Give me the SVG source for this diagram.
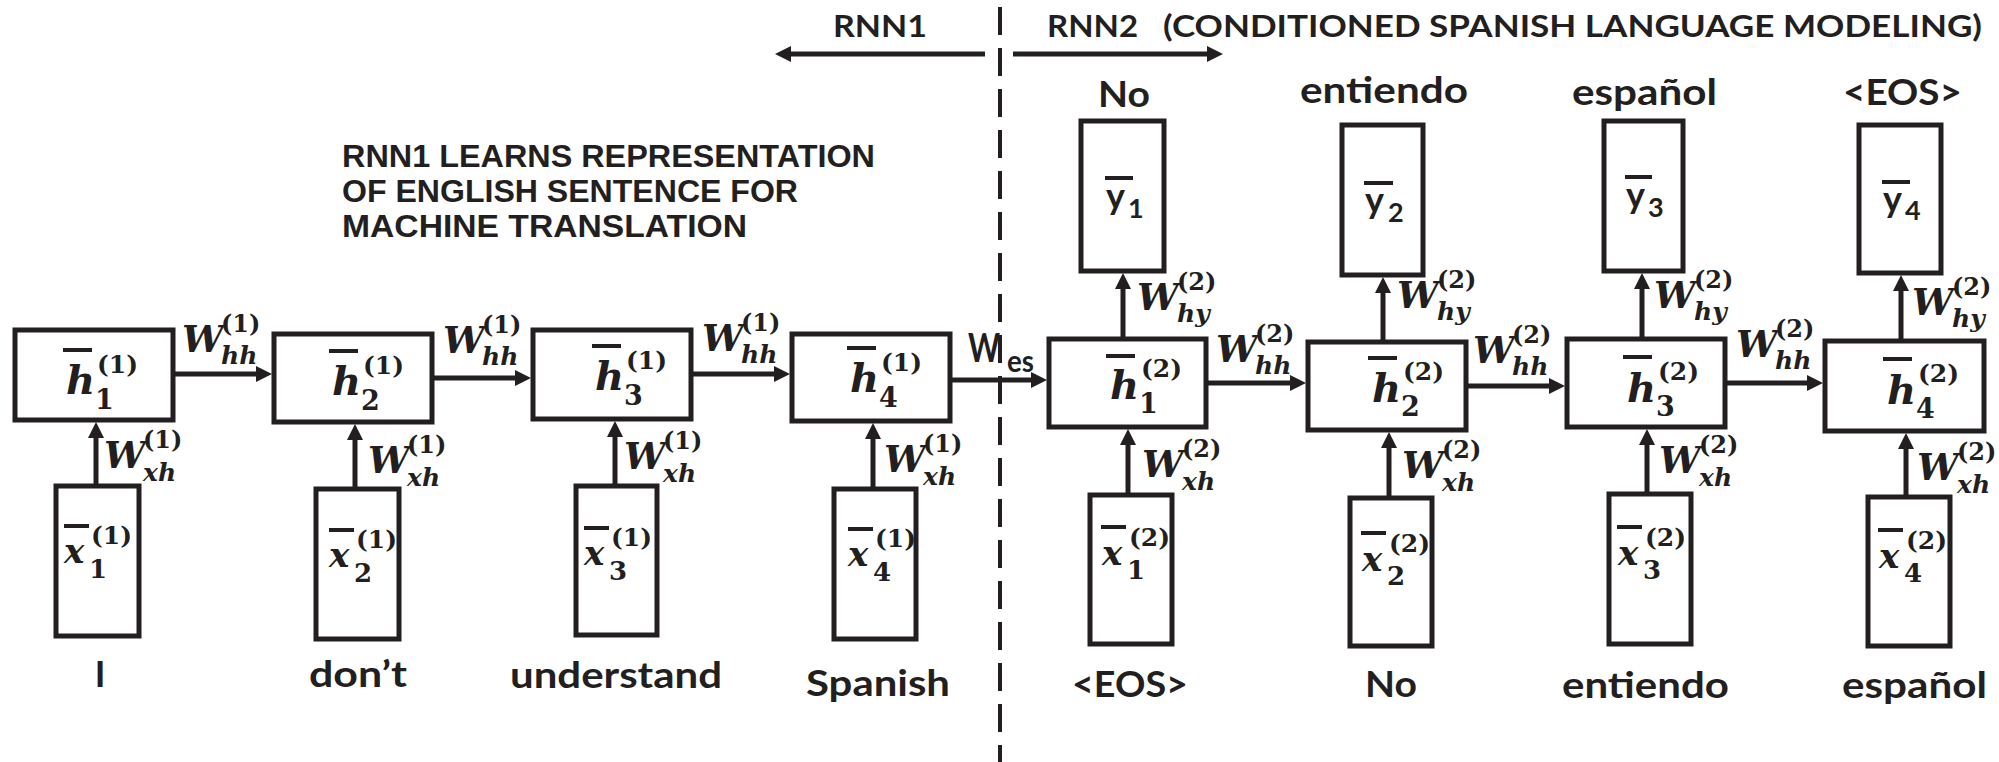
<svg xmlns="http://www.w3.org/2000/svg" width="1999" height="762" viewBox="0 0 1999 762">
<defs>
<marker id="ah" markerUnits="userSpaceOnUse" markerWidth="16" markerHeight="16" refX="6" refY="8" orient="auto"><path d="M0,0 L16,8 L0,16 z" fill="#231f20"/></marker>
<style>
.box{fill:#fff;stroke:#231f20;stroke-width:5}
.conn{stroke:#231f20;stroke-width:5;fill:none;marker-end:url(#ah)}
.ob{stroke:#231f20;stroke-width:4}
.s{font-family:Lato,'Liberation Sans',sans-serif;font-weight:bold;fill:#231f20}
.pp{font-family:'Liberation Sans',Arial,sans-serif;font-weight:bold;fill:#231f20;font-size:31px}
.m{font-family:'DejaVu Serif','Liberation Serif',serif;font-weight:bold;font-style:italic;fill:#231f20}
.r{font-style:normal}
.w{font-size:37px}.ws{font-size:24px}.wb{font-size:25px}
.h{font-size:40px}.hd{font-size:27px}.hs{font-size:25px}
.x{font-size:34px}.xd{font-size:26px}.xs{font-size:25px}
.t{font-size:31px}.lb{font-size:36px}
.y{font-size:36px}.yd{font-size:27px}
</style>
</defs>
<rect width="1999" height="762" fill="#fff"/>

<g id="divider"><line x1="1000" y1="-34" x2="1000" y2="762" stroke="#231f20" stroke-width="4" stroke-dasharray="28 13"/></g>

<g id="titles">
<text class="s t" x="833" y="37" textLength="94" lengthAdjust="spacingAndGlyphs">RNN1</text>
<text class="s t" x="1047" y="37" textLength="91" lengthAdjust="spacingAndGlyphs">RNN2</text>
<text class="s t" x="1163" y="37" textLength="819" lengthAdjust="spacingAndGlyphs">(CONDITIONED SPANISH LANGUAGE MODELING)</text>
<text class="pp" x="342" y="167" textLength="533" lengthAdjust="spacingAndGlyphs">RNN1 LEARNS REPRESENTATION</text>
<text class="pp" x="342" y="202" textLength="456" lengthAdjust="spacingAndGlyphs">OF ENGLISH SENTENCE FOR</text>
<text class="pp" x="342" y="237" textLength="405" lengthAdjust="spacingAndGlyphs">MACHINE TRANSLATION</text>
</g>

<g id="connectors">
<line class="conn" x1="985" y1="54" x2="785" y2="54"/>
<line class="conn" x1="1013" y1="54" x2="1213" y2="54"/>
<line class="conn" x1="172" y1="374" x2="262" y2="374"/>
<line class="conn" x1="432" y1="378" x2="521" y2="378"/>
<line class="conn" x1="691" y1="374" x2="780" y2="374"/>
<line class="conn" x1="950" y1="380" x2="1037" y2="380"/>
<line class="conn" x1="96" y1="486" x2="96" y2="432"/>
<line class="conn" x1="355" y1="489" x2="355" y2="434"/>
<line class="conn" x1="615" y1="486" x2="615" y2="431"/>
<line class="conn" x1="873" y1="489" x2="873" y2="433"/>
<line class="conn" x1="1206" y1="383" x2="1296" y2="383"/>
<line class="conn" x1="1466" y1="386" x2="1555" y2="386"/>
<line class="conn" x1="1725" y1="383" x2="1813" y2="383"/>
<line class="conn" x1="1128" y1="495" x2="1128" y2="439"/>
<line class="conn" x1="1389" y1="498" x2="1389" y2="442"/>
<line class="conn" x1="1647" y1="494" x2="1647" y2="439"/>
<line class="conn" x1="1906" y1="497" x2="1906" y2="443"/>
<line class="conn" x1="1123" y1="339" x2="1123" y2="283"/>
<line class="conn" x1="1383" y1="342" x2="1383" y2="287"/>
<line class="conn" x1="1642" y1="339" x2="1642" y2="283"/>
<line class="conn" x1="1901" y1="341" x2="1901" y2="285"/>

<g id="conn-labels">
<text class="s" x="968" y="362" font-size="40" textLength="32" lengthAdjust="spacingAndGlyphs">W</text>
<text class="s" x="1007" y="372" font-size="30" textLength="27" lengthAdjust="spacingAndGlyphs">es</text>

<text class="m w" x="182" y="352">W</text><text class="m r ws" x="221" y="332">(1)</text><text class="m wb" x="221" y="364">hh</text>
<text class="m w" x="443" y="353">W</text><text class="m r ws" x="482" y="333">(1)</text><text class="m wb" x="482" y="365">hh</text>
<text class="m w" x="702" y="351">W</text><text class="m r ws" x="741" y="331">(1)</text><text class="m wb" x="741" y="363">hh</text>

<text class="m w" x="104" y="468">W</text><text class="m r ws" x="143" y="448">(1)</text><text class="m wb" x="143" y="481">xh</text>
<text class="m w" x="368" y="473">W</text><text class="m r ws" x="407" y="453">(1)</text><text class="m wb" x="407" y="486">xh</text>
<text class="m w" x="624" y="469">W</text><text class="m r ws" x="663" y="449">(1)</text><text class="m wb" x="663" y="482">xh</text>
<text class="m w" x="884" y="472">W</text><text class="m r ws" x="923" y="452">(1)</text><text class="m wb" x="923" y="485">xh</text>

<text class="m w" x="1216" y="362">W</text><text class="m r ws" x="1255" y="342">(2)</text><text class="m wb" x="1255" y="374">hh</text>
<text class="m w" x="1473" y="363">W</text><text class="m r ws" x="1512" y="343">(2)</text><text class="m wb" x="1512" y="375">hh</text>
<text class="m w" x="1736" y="357">W</text><text class="m r ws" x="1775" y="337">(2)</text><text class="m wb" x="1775" y="369">hh</text>

<text class="m w" x="1137" y="310">W</text><text class="m r ws" x="1177" y="290">(2)</text><text class="m wb" x="1177" y="322">hy</text>
<text class="m w" x="1397" y="308">W</text><text class="m r ws" x="1437" y="288">(2)</text><text class="m wb" x="1437" y="320">hy</text>
<text class="m w" x="1654" y="308">W</text><text class="m r ws" x="1694" y="288">(2)</text><text class="m wb" x="1694" y="320">hy</text>
<text class="m w" x="1912" y="315">W</text><text class="m r ws" x="1952" y="295">(2)</text><text class="m wb" x="1952" y="327">hy</text>

<text class="m w" x="1142" y="477">W</text><text class="m r ws" x="1182" y="457">(2)</text><text class="m wb" x="1182" y="490">xh</text>
<text class="m w" x="1402" y="478">W</text><text class="m r ws" x="1442" y="458">(2)</text><text class="m wb" x="1442" y="491">xh</text>
<text class="m w" x="1659" y="473">W</text><text class="m r ws" x="1699" y="453">(2)</text><text class="m wb" x="1699" y="486">xh</text>
<text class="m w" x="1917" y="480">W</text><text class="m r ws" x="1957" y="460">(2)</text><text class="m wb" x="1957" y="493">xh</text>
</g>
</g>

<g id="h1_1"><rect class="box" x="15" y="330" width="158" height="90"/><line class="ob" x1="63" y1="350" x2="92" y2="350"/><text class="m h" x="66" y="394">h</text><text class="m r hd" x="95" y="409">1</text><text class="m r hs" x="97" y="373">(1)</text></g>
<g id="h1_2"><rect class="box" x="274" y="334" width="158" height="88"/><line class="ob" x1="329" y1="351" x2="358" y2="351"/><text class="m h" x="332" y="395">h</text><text class="m r hd" x="361" y="410">2</text><text class="m r hs" x="363" y="374">(1)</text></g>
<g id="h1_3"><rect class="box" x="533" y="330" width="158" height="89"/><line class="ob" x1="592" y1="346" x2="621" y2="346"/><text class="m h" x="595" y="390">h</text><text class="m r hd" x="624" y="405">3</text><text class="m r hs" x="626" y="369">(1)</text></g>
<g id="h1_4"><rect class="box" x="792" y="334" width="158" height="87"/><line class="ob" x1="847" y1="348" x2="876" y2="348"/><text class="m h" x="850" y="392">h</text><text class="m r hd" x="879" y="407">4</text><text class="m r hs" x="881" y="371">(1)</text></g>

<g id="x1_1"><rect class="box" x="56" y="486" width="83" height="150"/><line class="ob" x1="64" y1="526" x2="89" y2="526"/><text class="m x" x="64" y="563">x</text><text class="m r xd" x="89" y="578">1</text><text class="m r xs" x="91" y="544">(1)</text></g>
<g id="x1_2"><rect class="box" x="316" y="489" width="83" height="150"/><line class="ob" x1="329" y1="530" x2="354" y2="530"/><text class="m x" x="329" y="567">x</text><text class="m r xd" x="354" y="582">2</text><text class="m r xs" x="356" y="548">(1)</text></g>
<g id="x1_3"><rect class="box" x="576" y="486" width="81" height="149"/><line class="ob" x1="584" y1="528" x2="609" y2="528"/><text class="m x" x="584" y="565">x</text><text class="m r xd" x="609" y="580">3</text><text class="m r xs" x="611" y="546">(1)</text></g>
<g id="x1_4"><rect class="box" x="834" y="489" width="82" height="150"/><line class="ob" x1="848" y1="529" x2="873" y2="529"/><text class="m x" x="848" y="566">x</text><text class="m r xd" x="873" y="581">4</text><text class="m r xs" x="875" y="547">(1)</text></g>

<g id="h2_1"><rect class="box" x="1049" y="339" width="157" height="88"/><line class="ob" x1="1106" y1="356" x2="1135" y2="356"/><text class="m h" x="1110" y="399">h</text><text class="m r hd" x="1139" y="413">1</text><text class="m r hs" x="1141" y="377">(2)</text></g>
<g id="h2_2"><rect class="box" x="1308" y="342" width="158" height="88"/><line class="ob" x1="1368" y1="358" x2="1397" y2="358"/><text class="m h" x="1372" y="402">h</text><text class="m r hd" x="1401" y="416">2</text><text class="m r hs" x="1403" y="380">(2)</text></g>
<g id="h2_3"><rect class="box" x="1567" y="339" width="158" height="88"/><line class="ob" x1="1623" y1="357" x2="1652" y2="357"/><text class="m h" x="1627" y="402">h</text><text class="m r hd" x="1656" y="416">3</text><text class="m r hs" x="1658" y="380">(2)</text></g>
<g id="h2_4"><rect class="box" x="1825" y="341" width="159" height="90"/><line class="ob" x1="1883" y1="359" x2="1912" y2="359"/><text class="m h" x="1887" y="404">h</text><text class="m r hd" x="1916" y="418">4</text><text class="m r hs" x="1918" y="382">(2)</text></g>

<g id="x2_1"><rect class="box" x="1090" y="495" width="82" height="149"/><line class="ob" x1="1101" y1="527" x2="1126" y2="527"/><text class="m x" x="1102" y="565">x</text><text class="m r xd" x="1127" y="579">1</text><text class="m r xs" x="1129" y="546">(2)</text></g>
<g id="x2_2"><rect class="box" x="1350" y="498" width="82" height="148"/><line class="ob" x1="1361" y1="533" x2="1386" y2="533"/><text class="m x" x="1362" y="571">x</text><text class="m r xd" x="1387" y="585">2</text><text class="m r xs" x="1389" y="552">(2)</text></g>
<g id="x2_3"><rect class="box" x="1609" y="494" width="82" height="150"/><line class="ob" x1="1617" y1="527" x2="1642" y2="527"/><text class="m x" x="1618" y="565">x</text><text class="m r xd" x="1643" y="579">3</text><text class="m r xs" x="1645" y="546">(2)</text></g>
<g id="x2_4"><rect class="box" x="1868" y="497" width="82" height="149"/><line class="ob" x1="1878" y1="530" x2="1903" y2="530"/><text class="m x" x="1879" y="568">x</text><text class="m r xd" x="1904" y="582">4</text><text class="m r xs" x="1906" y="549">(2)</text></g>

<g id="y_1"><rect class="box" x="1081" y="121" width="83" height="150"/><line class="ob" x1="1105" y1="178" x2="1133" y2="178"/><text class="s y" x="1106" y="209">y</text><text class="s yd" x="1128" y="218">1</text></g>
<g id="y_2"><rect class="box" x="1342" y="125" width="81" height="150"/><line class="ob" x1="1364" y1="183" x2="1393" y2="183"/><text class="s y" x="1365" y="213">y</text><text class="s yd" x="1388" y="222">2</text></g>
<g id="y_3"><rect class="box" x="1604" y="121" width="79" height="150"/><line class="ob" x1="1625" y1="177" x2="1652" y2="177"/><text class="s y" x="1626" y="208">y</text><text class="s yd" x="1648" y="217">3</text></g>
<g id="y_4"><rect class="box" x="1859" y="125" width="82" height="148"/><line class="ob" x1="1882" y1="182" x2="1910" y2="182"/><text class="s y" x="1883" y="212">y</text><text class="s yd" x="1905" y="220">4</text></g>

<g id="words">
<text class="s lb" x="100" y="687" text-anchor="middle">I</text>
<text class="s lb" x="309" y="687" textLength="98" lengthAdjust="spacingAndGlyphs">don’t</text>
<text class="s lb" x="510" y="688" textLength="212" lengthAdjust="spacingAndGlyphs">understand</text>
<text class="s lb" x="806" y="696" textLength="144" lengthAdjust="spacingAndGlyphs">Spanish</text>
<text class="s lb" x="1072" y="697" textLength="116" lengthAdjust="spacingAndGlyphs">&lt;EOS&gt;</text>
<text class="s lb" x="1365" y="697" textLength="52" lengthAdjust="spacingAndGlyphs">No</text>
<text class="s lb" x="1562" y="698" textLength="167" lengthAdjust="spacingAndGlyphs">entiendo</text>
<text class="s lb" x="1842" y="698" textLength="145" lengthAdjust="spacingAndGlyphs">español</text>
<text class="s lb" x="1098" y="107" textLength="52" lengthAdjust="spacingAndGlyphs">No</text>
<text class="s lb" x="1300" y="103" textLength="168" lengthAdjust="spacingAndGlyphs">entiendo</text>
<text class="s lb" x="1572" y="105" textLength="145" lengthAdjust="spacingAndGlyphs">español</text>
<text class="s lb" x="1843" y="105" textLength="119" lengthAdjust="spacingAndGlyphs">&lt;EOS&gt;</text>
</g>
</svg>
